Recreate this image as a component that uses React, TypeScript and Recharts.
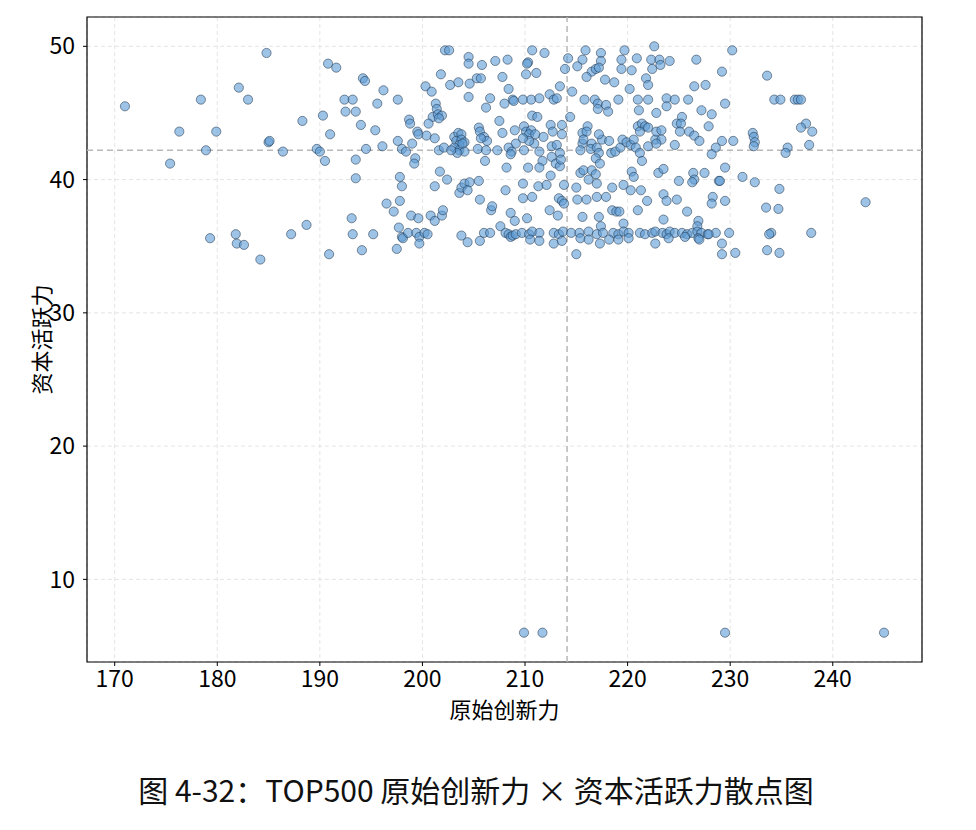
import React from 'react';
import {
  ScatterChart,
  Scatter,
  XAxis,
  YAxis,
  CartesianGrid,
  ReferenceLine,
  ReferenceArea,
} from 'recharts';

type Pt = [number, number];

// 原始创新力 x 资本活跃力, grouped by region

const leftSparse: Pt[] = [
  [171.0, 45.5], [175.4, 41.2], [176.3, 43.6], [178.4, 46.0], [178.9, 42.2], [179.3, 35.6],
  [179.9, 43.6], [182.1, 46.9], [183.0, 46.0], [181.8, 35.9], [181.9, 35.2], [182.6, 35.1],
  [184.2, 34.0], [184.8, 49.5], [185.0, 42.8], [185.1, 42.9], [186.4, 42.1], [187.2, 35.9],
  [188.3, 44.4], [188.7, 36.6], [189.7, 42.3], [190.0, 42.1], [190.3, 44.8], [190.5, 41.4],
  [190.8, 48.7], [191.6, 48.4], [190.9, 34.4], [191.0, 43.4], [192.4, 46.0], [193.2, 46.0],
  [192.5, 45.1], [193.5, 45.1], [194.2, 47.6], [194.4, 47.4], [194.0, 44.1], [195.4, 43.7],
  [195.6, 45.7], [194.5, 42.3], [193.5, 41.5], [193.5, 40.1], [193.1, 37.1], [193.2, 35.9],
  [195.2, 35.9], [194.1, 34.7],
];

const band196to209: Pt[] = [
  [196.2, 46.7], [197.6, 46.0], [196.1, 42.5], [196.5, 38.2], [197.2, 37.6], [197.8, 38.4],
  [202.2, 49.7], [202.6, 49.7], [204.5, 49.2], [204.5, 48.7], [205.8, 48.6], [207.1, 48.9],
  [208.3, 49.0], [201.8, 47.9], [200.3, 47.0], [200.9, 46.6], [202.7, 47.1], [203.5, 47.3],
  [204.6, 47.2], [205.3, 47.6], [205.7, 47.6], [207.8, 47.7], [208.4, 46.8], [208.8, 46.0],
  [208.9, 45.9], [208.0, 45.7], [206.6, 46.1], [206.2, 45.4], [204.5, 46.2],
  [201.3, 45.7], [201.4, 45.3], [201.0, 44.7], [201.5, 44.9], [201.9, 44.8], [201.6, 44.6],
  [200.6, 44.2], [198.7, 44.5], [198.8, 44.2],
  [199.5, 43.6], [199.6, 43.4], [200.4, 43.3], [201.2, 43.1], [197.6, 42.9], [198.0, 42.3],
  [198.4, 42.1], [199.0, 42.7], [199.3, 41.6], [199.2, 41.2], [201.6, 42.2], [202.1, 42.4],
  [203.1, 43.2], [203.5, 43.5], [203.8, 43.4], [203.3, 42.9], [203.8, 43.0], [204.1, 42.8],
  [203.6, 42.6], [203.1, 42.4], [203.6, 42.2], [204.1, 42.1], [203.4, 42.0], [202.8, 42.2],
  [203.9, 42.7],
  [205.5, 43.9], [205.6, 43.6], [206.0, 43.2], [206.3, 42.9], [205.7, 43.1], [205.4, 42.3],
  [206.2, 42.2], [206.1, 41.4], [207.3, 42.2], [207.5, 44.4], [207.8, 43.5], [209.0, 43.7],
  [209.1, 42.7], [208.4, 42.4], [208.7, 42.1], [208.6, 41.9], [208.2, 40.9],
  [201.7, 40.6], [202.4, 40.0], [201.2, 39.5], [197.8, 40.2], [198.0, 39.5], [203.6, 39.0],
  [203.8, 39.4], [204.1, 39.7], [204.6, 39.8], [204.4, 39.2], [205.5, 39.9], [208.1, 39.2],
  [205.6, 38.5],
  [198.9, 37.3], [199.6, 37.1], [200.8, 37.3], [201.2, 36.9], [201.9, 37.3], [202.0, 37.7],
  [206.7, 37.7], [206.8, 38.0], [208.6, 37.5], [209.0, 36.9], [207.6, 36.5],
  [197.7, 36.4], [198.0, 35.7], [198.1, 35.6], [198.6, 36.0], [199.4, 36.0], [199.7, 35.7],
  [199.7, 35.2], [200.2, 36.0], [200.5, 35.9], [197.5, 34.8],
  [203.8, 35.8], [204.4, 35.3], [205.6, 35.4], [206.0, 36.0], [206.6, 36.0], [208.1, 36.0],
  [208.4, 35.9], [208.6, 35.7], [208.8, 35.8], [209.1, 35.9],
];

const band209to222: Pt[] = [
  [210.7, 49.7], [211.9, 49.5], [210.3, 48.8], [210.2, 48.7], [210.1, 47.9], [211.1, 48.0],
  [214.2, 49.1], [213.9, 48.3], [215.9, 49.7], [217.4, 49.5], [217.4, 48.9], [215.6, 49.0],
  [215.1, 48.5], [216.5, 48.1], [216.9, 48.3], [217.2, 48.4], [216.0, 47.7], [217.8, 47.5],
  [218.7, 47.3], [219.4, 49.0], [219.7, 49.7], [220.9, 49.1], [219.4, 48.3], [220.4, 48.2],
  [222.3, 49.0], [222.6, 50.0], [222.4, 48.3], [221.8, 47.6], [222.0, 47.1], [220.2, 46.8],
  [209.8, 46.0], [210.6, 46.0], [211.4, 46.1], [212.4, 46.4], [212.8, 46.0], [213.1, 46.1],
  [213.4, 47.0], [214.6, 46.6],
  [215.8, 46.0], [216.8, 46.0], [217.1, 45.7], [217.9, 45.6], [218.1, 45.1], [217.1, 45.3],
  [219.1, 46.0], [221.0, 46.0], [222.0, 46.0], [221.1, 45.2], [222.8, 45.0],
  [210.7, 44.8], [211.2, 44.7], [214.4, 44.7], [213.6, 44.1],
  [209.9, 44.0], [210.1, 43.6], [210.6, 43.7], [210.4, 43.4], [211.0, 43.4], [210.9, 42.7],
  [210.4, 42.9], [209.9, 42.2], [211.4, 42.1], [211.8, 43.2], [212.5, 44.1], [212.7, 43.6],
  [212.6, 42.5], [213.1, 42.6], [213.4, 42.0], [213.6, 43.4], [209.8, 43.1],
  [211.7, 41.4], [211.4, 40.9], [210.3, 40.9], [212.6, 41.7], [213.0, 41.2], [213.4, 41.0],
  [213.5, 41.5],
  [215.6, 43.5], [216.1, 44.0], [216.0, 43.6], [215.6, 42.7], [215.7, 43.0], [215.4, 42.2],
  [216.5, 42.7], [216.4, 42.3], [217.0, 42.4], [217.2, 42.0], [217.5, 43.0], [217.2, 43.4],
  [218.2, 42.9], [218.4, 42.0], [218.8, 42.1], [219.3, 42.4], [219.5, 43.0], [219.9, 42.8],
  [220.3, 42.6], [220.6, 43.0], [221.0, 44.0], [221.4, 44.2], [221.7, 44.0], [221.2, 43.6],
  [220.8, 42.4], [221.2, 42.0], [221.4, 41.4], [222.0, 42.5], [222.7, 43.0],
  [216.9, 41.6], [217.3, 41.2],
  [215.4, 40.5], [215.7, 40.7], [216.5, 40.7], [216.9, 40.4], [216.2, 40.0], [217.0, 39.7],
  [212.5, 40.3], [209.8, 39.7], [211.3, 39.5], [212.1, 39.6], [213.8, 39.6], [215.0, 39.4],
  [218.5, 39.4], [219.6, 39.6], [220.3, 39.2], [221.3, 39.2], [220.4, 40.6], [220.6, 40.2],
  [209.8, 38.6], [210.7, 38.7], [213.3, 38.6], [213.6, 38.4], [213.8, 38.2], [215.1, 38.5],
  [216.0, 38.5], [217.0, 38.7], [217.9, 38.7], [221.9, 38.4],
  [212.4, 37.7], [213.2, 37.3], [210.2, 37.1],
  [215.6, 37.2], [217.2, 37.2], [217.4, 36.5], [218.5, 37.7], [218.9, 37.6], [219.2, 37.6],
  [219.6, 36.7], [221.0, 37.7],
  [209.7, 36.0], [210.4, 35.9], [210.7, 36.1], [211.4, 36.0], [212.8, 36.0], [213.3, 35.9],
  [213.7, 36.1], [214.5, 36.0], [215.3, 36.0], [216.2, 36.1], [217.0, 35.9], [217.6, 36.0],
  [218.6, 36.0], [219.1, 35.9], [219.6, 36.1], [220.1, 36.0], [221.2, 36.0], [221.7, 35.9],
  [222.4, 36.0], [222.7, 36.1],
  [210.5, 35.5], [211.4, 35.4], [212.8, 35.2], [213.6, 35.4], [215.4, 35.6], [216.2, 35.5],
  [217.3, 35.2], [218.2, 35.5], [219.1, 35.5], [220.1, 35.6], [215.0, 34.4],
];

const band222to236: Pt[] = [
  [223.1, 49.0], [223.2, 48.6], [224.1, 48.9], [226.7, 49.0], [230.2, 49.7], [229.2, 48.1],
  [233.6, 47.8], [226.5, 47.0], [227.6, 47.1],
  [223.8, 46.1], [224.6, 46.0], [225.9, 46.0], [223.8, 45.5], [229.5, 45.7], [234.3, 46.0],
  [234.9, 46.0], [236.3, 46.0], [227.2, 45.2], [228.2, 44.9],
  [225.3, 44.7], [224.8, 44.2], [225.2, 44.2], [227.9, 44.0], [225.1, 43.6], [226.0, 43.6],
  [226.5, 43.3], [227.0, 42.9],
  [222.0, 43.9], [222.8, 43.6], [223.3, 43.7], [223.3, 43.0], [222.8, 42.7], [224.6, 42.6],
  [229.2, 42.9], [230.3, 42.9], [228.6, 42.4], [228.2, 41.9], [232.2, 43.5], [232.3, 43.2],
  [232.4, 42.8], [232.3, 42.5], [235.6, 42.4], [235.4, 42.0],
  [229.5, 40.9], [223.0, 40.5], [223.5, 40.8], [226.4, 40.5], [227.5, 40.5], [226.5, 40.0],
  [226.3, 39.8], [228.9, 39.9], [229.0, 39.9], [225.0, 39.9], [231.2, 40.2], [232.4, 39.8],
  [234.8, 39.3],
  [223.5, 38.9], [223.8, 38.4], [224.8, 38.5], [228.3, 38.7], [228.2, 38.2], [229.5, 38.4],
  [225.8, 37.6], [233.5, 37.9], [234.7, 37.8], [223.5, 37.0], [226.9, 36.9], [226.8, 36.5],
  [223.4, 36.0], [223.8, 35.9], [224.1, 36.1], [224.6, 36.0], [225.3, 36.0], [225.8, 35.9],
  [226.3, 36.0], [226.8, 36.1], [227.2, 36.0], [227.8, 35.9], [228.6, 36.0], [229.9, 36.0],
  [224.0, 35.6], [225.6, 35.7], [226.9, 35.6], [227.0, 35.5], [227.9, 35.9], [222.7, 35.2],
  [229.2, 35.2], [229.2, 34.4], [230.5, 34.5], [234.0, 36.0], [233.8, 35.9], [233.6, 34.7],
  [234.8, 34.5],
];

const rightSparse: Pt[] = [
  [236.6, 46.0], [236.9, 46.0], [237.4, 44.2], [236.9, 43.9], [238.0, 43.6], [237.7, 42.6],
  [243.2, 38.3], [237.9, 36.0],
];

const lowOutliers: Pt[] = [
  [209.9, 6.0], [211.7, 6.0], [229.5, 6.0], [245.0, 6.0],
];

const xTicks = [170, 180, 190, 200, 210, 220, 230, 240];
const yTicks = [10, 20, 30, 40, 50];
const xDomain: [number, number] = [167.3, 248.7];
const yDomain: [number, number] = [3.8, 52.2];
const xMean = 214.1;
const yMean = 42.2;

const data = [
  ...leftSparse,
  ...band196to209,
  ...band209to222,
  ...band222to236,
  ...rightSparse,
  ...lowOutliers,
].map(([x, y]) => ({ x, y }));

const FONT = '"Noto Sans CJK SC", "Noto Sans", sans-serif';

const Dot = (props: any) => {
  const { cx, cy } = props;
  if (cx == null || cy == null) return null;
  return (
    <circle
      cx={cx}
      cy={cy}
      r={4.6}
      fill="#5b9bd5"
      fillOpacity={0.6}
      stroke="#1c2f45"
      strokeOpacity={0.75}
      strokeWidth={0.7}
    />
  );
};

export default function App() {
  return (
    <div style={{ width: 960, fontFamily: FONT, background: '#fff' }}>
      <ScatterChart
        width={960}
        height={730}
        margin={{ top: 9, right: 46, bottom: 16, left: 19 }}
      >
        <CartesianGrid stroke="#e4e4e4" strokeDasharray="4 3" />
        <XAxis
          type="number"
          dataKey="x"
          domain={xDomain}
          ticks={xTicks}
          allowDataOverflow
          height={60}
          axisLine={false}
          tickSize={4}
          tickLine={{ stroke: '#000' }}
          tickMargin={5}
          tick={{ fontSize: 23, fill: '#000', fontFamily: FONT }}
          label={{
            value: '原始创新力',
            position: 'insideBottom',
            offset: 4,
            style: { fontSize: 22, fill: '#000', fontFamily: FONT },
          }}
        />
        <YAxis
          type="number"
          dataKey="y"
          domain={yDomain}
          ticks={yTicks}
          allowDataOverflow
          width={60}
          axisLine={false}
          tickSize={4}
          tickLine={{ stroke: '#000' }}
          tickMargin={8}
          tick={{ fontSize: 23, fill: '#000', fontFamily: FONT }}
          label={{
            value: '资本活跃力',
            angle: -90,
            position: 'insideLeft',
            offset: 15,
            style: { fontSize: 22, fill: '#000', fontFamily: FONT, textAnchor: 'middle' },
          }}
        />
        <Scatter data={data} shape={Dot} isAnimationActive={false} />
        <ReferenceLine x={xMean} stroke="#b8b8b8" strokeDasharray="6 4" strokeWidth={1.5} />
        <ReferenceLine y={yMean} stroke="#b8b8b8" strokeDasharray="6 4" strokeWidth={1.5} />
        <ReferenceArea
          x1={xDomain[0]}
          x2={xDomain[1]}
          y1={yDomain[0]}
          y2={yDomain[1]}
          fill="none"
          stroke="#000"
          strokeWidth={1.2}
        />
      </ScatterChart>
      <div
        style={{
          width: 936,
          marginTop: 34,
          textAlign: 'center',
          fontSize: 30,
          lineHeight: '35px',
          color: '#111',
        }}
      >
        图 4-32：TOP500 原始创新力 × 资本活跃力散点图
      </div>
    </div>
  );
}
